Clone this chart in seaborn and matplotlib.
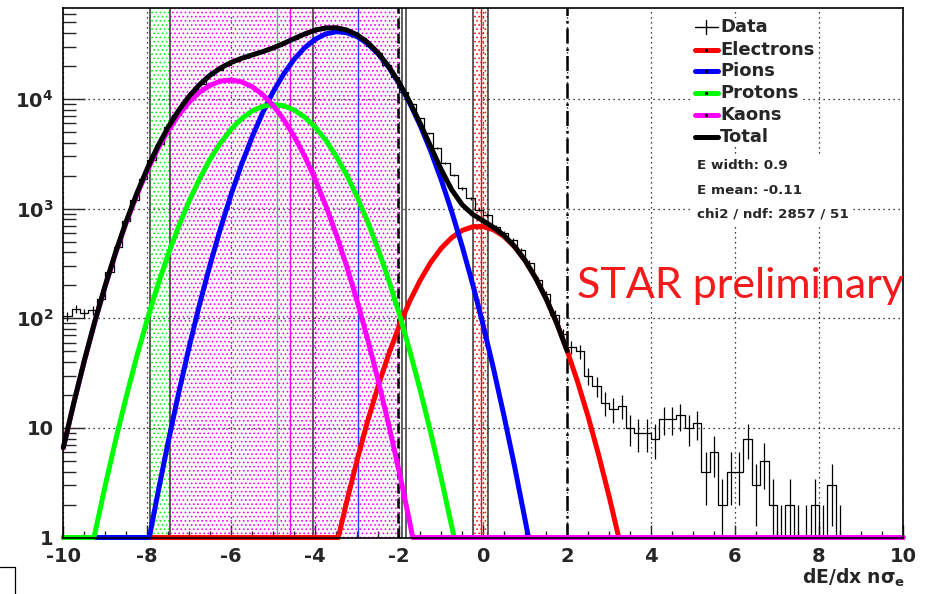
import numpy as np
import pandas as pd
import matplotlib
matplotlib.use("Agg")
import matplotlib.pyplot as plt
import seaborn as sns
from matplotlib.lines import Line2D
from matplotlib.patches import Rectangle
from matplotlib.ticker import MultipleLocator, LogLocator, NullFormatter, FixedLocator

# ---------------- data ----------------
bin_edges = np.linspace(-10, 10, 101)
data_counts = [
    105, 122, 112, 118, 150, 262, 450, 770, 1190, 1860,
    2770, 3920, 5560, 7210, 9350, 11620, 13870, 16560, 18410, 20460,
    22280, 23710, 25240, 26790, 28440, 30480, 32960, 35650, 38280, 41110,
    42950, 43850, 44770, 42170, 39720, 35730, 30620, 26300, 20510, 15960,
    11700, 9100, 6680, 4875, 3560, 2600, 2030, 1535, 1245, 975,
    877, 685, 597, 518, 420, 320, 225, 165, 108, 72,
    55, 50, 30, 24, 17, 15, 16, 10, 9, 9,
    8, 12, 12, 13, 10, 11, 4, 6, 2, 4,
    4, 8, 3, 5, 2, 1, 2, 1, 1, 2,
    1, 3, 1, 0, 0, 0, 0, 0, 0, 0,
]

electrons_x = [-10, -3.45, -3.25, -3, -2.75, -2.5, -2.25, -2, -1.75, -1.5, -1.25, -1, -0.75,
               -0.5, -0.25, 0, 0.25, 0.5, 0.75, 1, 1.25, 1.5, 1.75, 2, 2.25, 2.5, 2.75, 3,
               3.23, 10]
electrons_y = [1, 1, 2.12, 5.13, 11.6, 24.2, 47.0, 85.0, 143, 222, 323, 435, 544,
               633, 684, 687, 641, 556, 448, 336, 233, 151, 90.8, 50.7, 26.3, 12.7, 5.68, 2.37,
               1, 1]

pions_x = [-10, -7.95, -7.75, -7.5, -7.25, -7, -6.75, -6.5, -6.25, -6, -5.75, -5.5, -5.25, -5,
           -4.75, -4.5, -4.25, -4, -3.75, -3.5, -3.25, -3, -2.75, -2.5, -2.25, -2, -1.75,
           -1.5, -1.25, -1, -0.75, -0.5, -0.25, 0, 0.25, 0.5, 0.75, 1.0, 1.08, 10]
pions_y = [1, 1, 2.51, 7.50, 21.0, 55.2, 136, 312, 672, 1357, 2565, 4540, 7520, 11680,
           16980, 23110, 29450, 35160, 39310, 41150, 40360, 37100, 31990, 25820, 19540, 13870, 9220,
           5750, 3360, 1840, 944, 454, 205, 86.5, 34.3, 12.7, 4.43, 1.44, 1, 1]

protons_x = [-10, -9.27, -9, -8.75, -8.5, -8.25, -8, -7.75, -7.5, -7.25, -7, -6.75, -6.5, -6.25,
             -6, -5.75, -5.5, -5.25, -5, -4.75, -4.5, -4.25, -4, -3.75, -3.5, -3.25, -3, -2.75,
             -2.5, -2.25, -2, -1.75, -1.5, -1.25, -1, -0.75, -0.69, 10]
protons_y = [1, 1, 2.99, 7.84, 19.3, 44.8, 97.5, 200, 385, 695, 1183, 1890, 2840, 4010,
             5320, 6650, 7800, 8590, 8910, 8690, 7950, 6840, 5540, 4220, 3010, 2030, 1280, 760,
             425, 223, 110, 50.9, 22.2, 9.1, 3.50, 1.27, 1, 1]

kaons_x = [-10, -9.75, -9.5, -9.25, -9, -8.75, -8.5, -8.25, -8, -7.75, -7.5, -7.25, -7, -6.75,
           -6.5, -6.25, -6, -5.75, -5.5, -5.25, -5, -4.75, -4.5, -4.25, -4, -3.75, -3.5, -3.25,
           -3, -2.75, -2.5, -2.25, -2, -1.75, -1.68, 10]
kaons_y = [6.56, 16.8, 40.6, 92.4, 197, 396, 749, 1330, 2225, 3500, 5170, 7190, 9410, 11580,
           13400, 14590, 14930, 14350, 12950, 10970, 8720, 6510, 4560, 3000, 1850, 1072, 583, 298,
           143, 64.1, 27.1, 10.7, 3.99, 1.39, 1, 1]

total_x = [-10, -9.75, -9.5, -9.25, -9, -8.75, -8.5, -8.25, -8, -7.75, -7.5, -7.25, -7, -6.75,
           -6.5, -6.25, -6, -5.75, -5.5, -5.25, -5, -4.75, -4.5, -4.25, -4, -3.75, -3.5, -3.25,
           -3, -2.75, -2.5, -2.25, -2, -1.75, -1.5, -1.25, -1, -0.75, -0.5, -0.25, 0, 0.25,
           0.5, 0.75, 1, 1.25, 1.5, 1.75, 2]
total_y = [6.6, 16.9, 41.0, 93.5, 200, 404, 768, 1375, 2323, 3703, 5562, 7906, 10648, 13606,
           16552, 19272, 21607, 23565, 25290, 27080, 29310, 32180, 35620, 39290, 42550, 44600,
           44740, 42690, 38530, 32830, 26300, 19820, 14070, 9415, 5994, 3692, 2279, 1489, 1087,
           889, 774, 675, 569, 452, 337, 233, 151, 91, 50.7]

# cut bands / lines (x positions in n sigma)
green_band = (-7.93, -7.45)
magenta_band = (-7.45, -1.97)
red_band = (-0.25, 0.12)

legend_labels = ["Data", "Electrons", "Pions", "Protons", "Kaons", "Total"]
stats_lines = ["E width: 0.9", "E mean: -0.11", "chi2 / ndf: 2857 / 51"]

x_ticks = [-10, -8, -6, -4, -2, 0, 2, 4, 6, 8, 10]
x_tick_labels = ["-10", "-8", "-6", "-4", "-2", "0", "2", "4", "6", "8", "10"]
y_ticks = [1, 10, 100, 1000, 10000]
y_tick_labels = ["1", "10", r"$\mathbf{10^{2}}$", r"$\mathbf{10^{3}}$", r"$\mathbf{10^{4}}$"]

# ---------------- style ----------------
sns.set_style("white")
plt.rcParams["font.family"] = ["DejaVu Sans"]
plt.rcParams["mathtext.fontset"] = "dejavusans"
plt.rcParams["hatch.linewidth"] = 0.7
plt.rcParams["axes.unicode_minus"] = False

W, H = 928, 594
fig = plt.figure(figsize=(W / 100, H / 100), dpi=100)
fig.patch.set_facecolor("white")

def fx(px):
    return px / W

def fy(py):
    return 1 - py / H

x0, x1, ytop, ybot = 63.3, 903.0, 8.0, 537.5
ax = fig.add_axes([fx(x0), fy(ybot), fx(x1) - fx(x0), fy(ytop) - fy(ybot)])
ax.set_facecolor("white")
ax.set_yscale("log")
ax.set_xlim(-10, 10)
ax.set_ylim(1, 10 ** 4.831)

# bands
ax.axvspan(*green_band, facecolor="none", edgecolor=(0.1, 0.95, 0.1), hatch="....", lw=0, zorder=1)
ax.axvspan(*magenta_band, facecolor="none", edgecolor=(1.0, 0.0, 1.0), hatch="....", lw=0, zorder=1)
ax.axvspan(*red_band, facecolor="none", edgecolor=(1.0, 0.1, 0.1), hatch="....", lw=0, zorder=1)

for xv in (green_band[0], green_band[1], -4.05, -1.94, -1.84, red_band[0], red_band[1]):
    ax.axvline(xv, color="#333333", lw=1.1, zorder=2)
ax.axvline(-2.02, color="black", lw=1.8, ls=(0, (4, 2)), zorder=2)
ax.axvline(-4.905, color=(0.2, 0.85, 0.2), lw=1.0, zorder=2)
ax.axvline(-4.6, color=(1.0, 0.0, 1.0), lw=1.0, zorder=2)
ax.axvline(-2.98, color=(0.2, 0.2, 1.0), lw=1.0, zorder=2)
ax.axvline(-0.05, color=(1.0, 0.0, 0.0), lw=1.0, zorder=2)
ax.axvline(2.0, color="black", lw=1.8, ls=(0, (6, 2, 1, 2)), zorder=2)

# grid
ax.grid(True, which="major", color="black", ls=(0, (1, 3)), lw=0.9)
ax.set_axisbelow(True)

# data histogram
counts = np.array(data_counts, dtype=float)
centers = 0.5 * (bin_edges[:-1] + bin_edges[1:])
step_y = np.where(counts > 0, counts, 0.3)
df_hist = pd.DataFrame({"x": bin_edges, "y": np.append(step_y, step_y[-1])})
sns.lineplot(data=df_hist, x="x", y="y", drawstyle="steps-post", color="black", lw=0.9,
             estimator=None, sort=False, ax=ax, zorder=3)
mask = counts > 0
err = np.sqrt(counts[mask])
lo = np.maximum(counts[mask] - err, 0.3)
hi = counts[mask] + err
ax.vlines(centers[mask], lo, hi, color="black", lw=0.9, zorder=3)

# fit curves
curves = [
    (electrons_x, electrons_y, (1.0, 0.0, 0.0)),
    (pions_x, pions_y, (0.0, 0.0, 1.0)),
    (protons_x, protons_y, (0.0, 1.0, 0.0)),
    (kaons_x, kaons_y, (1.0, 0.0, 1.0)),
    (total_x, total_y, (0.0, 0.0, 0.0)),
]
for i, (cx, cy, col) in enumerate(curves):
    d = pd.DataFrame({"x": cx, "y": cy})
    sns.lineplot(data=d, x="x", y="y", color=col, lw=3.6, estimator=None, sort=False,
                 ax=ax, zorder=4 + i, clip_on=False, solid_joinstyle="round")

# axes / ticks
for s in ax.spines.values():
    s.set_linewidth(1.2)
    s.set_color("black")
    s.set_zorder(20)
ax.xaxis.set_major_locator(FixedLocator(x_ticks))
ax.set_xticklabels(x_tick_labels)
ax.xaxis.set_minor_locator(MultipleLocator(0.5))
ax.yaxis.set_major_locator(FixedLocator(y_ticks))
ax.set_yticklabels(y_tick_labels)
ax.yaxis.set_minor_locator(LogLocator(base=10, subs=np.arange(2, 10)))
ax.yaxis.set_minor_formatter(NullFormatter())
ax.tick_params(axis="x", which="major", direction="in", length=9.4, width=1.0, pad=6.5,
               labelsize=14, bottom=True, top=False)
ax.tick_params(axis="x", which="minor", direction="in", length=4.8, width=1.0, bottom=True, top=False)
ax.tick_params(axis="y", which="major", direction="in", length=15.8, width=1.0, pad=7.0,
               labelsize=14, left=True, right=False)
ax.tick_params(axis="y", which="minor", direction="in", length=9.4, width=1.0, left=True, right=False)
for lab in ax.get_xticklabels() + ax.get_yticklabels():
    lab.set_fontweight("bold")
ax.set_xlabel("")
ax.set_ylabel("")

# legend (drawn in figure pixels)
fig.add_artist(Rectangle((fx(693), fy(146)), fx(800) - fx(693), fy(18) - fy(146),
                         transform=fig.transFigure, facecolor="white", edgecolor="none", zorder=30))
fig.add_artist(Rectangle((fx(693), fy(224)), fx(850) - fx(693), fy(156) - fy(224),
                         transform=fig.transFigure, facecolor="white", edgecolor="none", zorder=30))
row_y = [27, 50, 71, 92.5, 114.5, 136.5]
colors = [None, (1, 0, 0), (0, 0, 1), (0, 1, 0), (1, 0, 1), (0, 0, 0)]
for lab, yy, col in zip(legend_labels, row_y, colors):
    if col is None:
        fig.add_artist(Line2D([fx(695), fx(718)], [fy(yy), fy(yy)], color="black", lw=1.0,
                              transform=fig.transFigure, zorder=31))
        fig.add_artist(Line2D([fx(706.5), fx(706.5)], [fy(yy - 7), fy(yy + 7)], color="black",
                              lw=1.0, transform=fig.transFigure, zorder=31))
    else:
        fig.add_artist(Line2D([fx(695), fx(718)], [fy(yy), fy(yy)], color=col, lw=3.6,
                              transform=fig.transFigure, zorder=31))
        fig.add_artist(Line2D([fx(706.5)], [fy(yy)], color="black", marker="s", ms=1.2, lw=0,
                              transform=fig.transFigure, zorder=32))
    fig.text(fx(720), fy(yy), lab, ha="left", va="center", fontsize=13, fontweight="bold",
             zorder=33)
for txt, yy in zip(stats_lines, [166, 190, 214.3]):
    fig.text(fx(697), fy(yy), txt, ha="left", va="center", fontsize=9.7, fontweight="bold",
             zorder=33)

# x label
fig.text(fx(905), fy(584), r"$\mathbf{dE/dx\ n\sigma_{e}}$", ha="right", va="baseline",
         fontsize=13.5)

# STAR preliminary
fig.text(fx(577), fy(298), "STAR preliminary", ha="left", va="baseline", fontsize=31,
         family=["Lato", "DejaVu Sans"], color=(0.95, 0.1, 0.1), zorder=40)

# small slide artefact bottom-left
fig.add_artist(Line2D([0, fx(15)], [fy(566.7), fy(566.7)], color="black", lw=0.9,
                      transform=fig.transFigure))
fig.add_artist(Line2D([fx(15), fx(15)], [fy(566.7), 0], color="black", lw=0.9,
                      transform=fig.transFigure))

fig.savefig("out.png", dpi=100)
